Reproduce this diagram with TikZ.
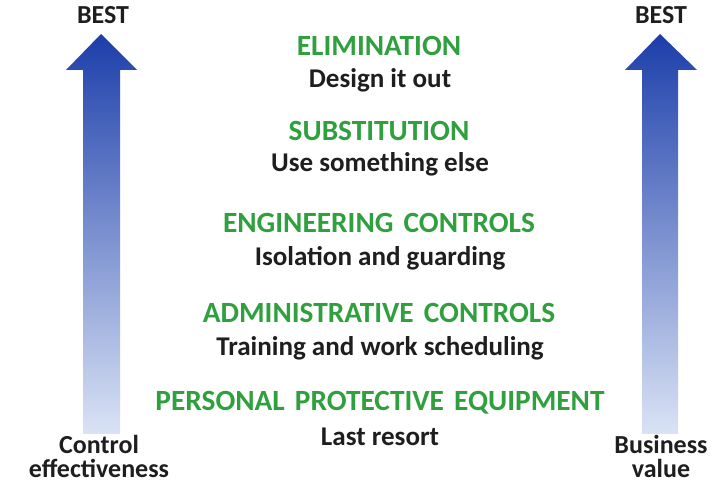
\documentclass[tikz,border=0pt]{standalone}
\usepackage{fontspec}
\setmainfont{Carlito}
\usetikzlibrary{positioning}

\definecolor{ctrlgreen}{RGB}{48,160,62}
\definecolor{ctrltext}{RGB}{30,30,30}
\definecolor{arrowdark}{RGB}{28,62,170}
\definecolor{arrowmid}{RGB}{186,198,232}
\definecolor{arrowlight}{RGB}{218,227,245}

\tikzset{
  level/.style={font=\fontsize{22}{24}\selectfont\bfseries, text=ctrlgreen, inner sep=0pt},
  hint/.style={font=\fontsize{20.3}{24}\selectfont\bfseries, text=ctrltext, inner sep=0pt},
  side/.style={font=\fontsize{19.5}{24}\selectfont\bfseries, text=ctrltext, inner sep=0pt, text depth=0pt},
  bluearrow/.style={top color=arrowdark, middle color=arrowmid, bottom color=arrowlight}
}
\newcommand{\gap}{\ \hspace{0.12em}}

\begin{document}
\begin{tikzpicture}[x=0.75pt, y=-0.75pt]
\useasboundingbox (0,0) rectangle (719,484);

\def\tip{34};
\def\base{70};
\def\foot{434};

% left arrow
\shade[bluearrow] (83,\foot) -- (83,\base) -- (66,\base) -- (101,\tip)
  -- (137,\base) -- (120,\base) -- (120,\foot) -- cycle;
% right arrow
\shade[bluearrow] (642,\foot) -- (642,\base) -- (625,\base) -- (660,\tip)
  -- (697,\base) -- (678,\base) -- (678,\foot) -- cycle;

\node[side] (bestl) at (103,15) {BEST};
\node[side] (bestr) at (661,15) {BEST};
\node[side, anchor=base] (ctrl) at (99,454) {Control};
\node[side, anchor=base] (effect) at (99,478) {effectiveness};
\node[side, anchor=base] (biz) at (661,454) {Business};
\node[side, anchor=base] (value) at (661,478) {value};

% hierarchy
\node[level] (elim) at (379,46) {ELIMINATION};
\node[hint] (elimh) at (380,80) {Design it out};
\node[level] (subs) at (379,131) {SUBSTITUTION};
\node[hint] (subsh) at (380,164) {Use something else};
\node[level] (engi) at (379,223) {ENGINEERING\gap CONTROLS};
\node[hint] (engih) at (380,258) {Isolation and guarding};
\node[level] (admin) at (379,313) {ADMINISTRATIVE\gap CONTROLS};
\node[hint] (adminh) at (380,348) {Training and work scheduling};
\node[level] (ppe) at (380,403) {PERSONAL\gap PROTECTIVE\gap EQUIPMENT};
\node[hint] (ppeh) at (380,437) {Last resort};

\end{tikzpicture}
\end{document}
